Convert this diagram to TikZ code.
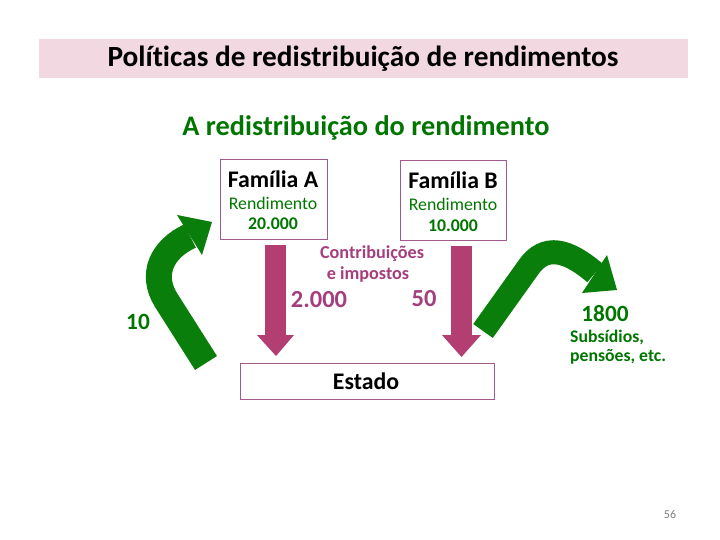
\documentclass[tikz,border=0pt]{standalone}
\usepackage{fontspec}
\setmainfont[Ligatures=NoCommon]{Carlito}
\definecolor{titlebg}{RGB}{242,216,225}
\definecolor{boxc}{RGB}{160,90,140}
\definecolor{pinkarrow}{RGB}{178,62,114}
\definecolor{pinktext}{RGB}{164,62,124}
\definecolor{garrow}{RGB}{10,126,10}
\definecolor{gtext}{RGB}{0,118,0}
\begin{document}
\begin{tikzpicture}[x=1pt,y=-1pt,
  famstyle/.style={draw=boxc, line width=0.8pt, inner sep=0, minimum height=80},
  txt/.style={inner sep=0, anchor=center},
  head/.style={txt, font=\fontsize{23.8}{28}\selectfont\bfseries},
  rend/.style={txt, text=gtext, font=\fontsize{17.8}{20}\selectfont},
  amount/.style={txt, text=gtext, font=\fontsize{17.8}{20}\selectfont\bfseries},
  ptext/.style={txt, text=pinktext, font=\fontsize{18.2}{20}\selectfont\bfseries},
  pnum/.style={txt, text=pinktext, font=\fontsize{24.5}{28}\selectfont\bfseries},
  gnum/.style={txt, text=gtext, font=\fontsize{23.3}{28}\selectfont\bfseries},
  gsmall/.style={txt, text=gtext, font=\fontsize{17.7}{20}\selectfont\bfseries, anchor=west},
  greenshaft/.style={draw=garrow, line cap=butt},
]
\useasboundingbox (0,0) rectangle (720,540);
\fill[white] (0,0) rectangle (720,540);

% title band
\node[fill=titlebg, minimum width=649, minimum height=39, inner sep=0, anchor=north west] (band) at (39,39) {};
\node[txt, font=\fontsize{29.3}{34}\selectfont\bfseries] (title) at (363,59) {Políticas de redistribuição de rendimentos};

% subtitle
\node[txt, text=gtext, font=\fontsize{28.3}{34}\selectfont\bfseries] (sub) at (366,128) {A redistribuição do rendimento};

% family boxes
\node[famstyle, minimum width=107] (famA) at (273.5,199) {};
\node[head] (famAt) at (273,179) {Família A};
\node[rend] (famAr) at (273,203) {Rendimento};
\node[amount] (famAa) at (273,224) {20.000};

\node[famstyle, minimum width=106] (famB) at (453,200) {};
\node[head] (famBt) at (453,180) {Família B};
\node[rend] (famBr) at (453,204) {Rendimento};
\node[amount] (famBa) at (453,226) {10.000};

% Estado
\node[draw=boxc, line width=0.8pt, minimum width=254, minimum height=36, inner sep=0] (estado) at (367,381) {};
\node[txt, font=\fontsize{23.8}{28}\selectfont\bfseries] (estadot) at (366,381) {Estado};

% pink arrows
\fill[pinkarrow] (265,245) rectangle (286,336);
\fill[pinkarrow] (257,335) -- (294,335) -- (276,356) -- cycle;
\fill[pinkarrow] (451,246) rectangle (472,336);
\fill[pinkarrow] (442,335) -- (481,335) -- (461.5,357) -- cycle;

% contributions text
\node[ptext] (contr1) at (372,254) {Contribuições};
\node[ptext] (contr2) at (368,275) {e impostos};
\node[pnum] (numA) at (319,300) {2.000};
\node[pnum] (numB) at (424,299) {50};

% green arrows
\draw[greenshaft, line width=26] (206,363) -- (166,300) .. controls (150,274) and (162,249) .. (190,236);
\fill[garrow] (177,215) -- (212,222) -- (202,255) -- cycle;
\draw[greenshaft, line width=24] (483,331) -- (528,268) .. controls (545,243) and (568,250) .. (595,273);
\fill[garrow] (607,255) -- (617,290) -- (582,293) -- cycle;

% green texts
\node[gnum] (ten) at (138,322) {10};
\node[gnum] (n1800) at (605,314) {1800};
\node[gsmall] (subs1) at (570,337) {Subsídios,};
\node[gsmall] (subs2) at (570,357) {pensões, etc.};

% page number
\node[txt, text=gray, font=\fontsize{12}{14}\selectfont] (page) at (670,514) {56};
\end{tikzpicture}
\end{document}
